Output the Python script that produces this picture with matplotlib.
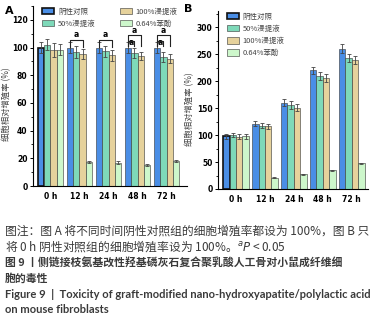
import numpy as np
import matplotlib
matplotlib.use('Agg')
import matplotlib.pyplot as plt
from matplotlib.ticker import MultipleLocator

plt.rcParams['font.family'] = ['Noto Sans CJK SC', 'DejaVu Sans']
plt.rcParams['axes.unicode_minus'] = False

times = ['0 h', '12 h', '24 h', '48 h', '72 h']
groups = ['阴性对照', '50%浸提液', '100%浸提液', '0.64%苯酚']
colors = ['#4a8ee6', '#7ed9b9', '#e6d29c', '#cdf7cb']

# panel A: relative to control at each time point
a_ctrl = [100, 100, 100, 100, 100]
a_50 = [102, 96.8, 97.3, 95.9, 93.2]
a_100 = [98.2, 95.2, 94.5, 93.8, 92]
a_phenol = [98.3, 17.4, 16.8, 15, 17.9]
a_err = [[4, 4, 4, 4, 4],
         [4, 4, 4, 3.5, 3.5],
         [5, 3.5, 4, 3, 3.5],
         [4, 0.5, 1, 0.6, 0.6]]

# panel B: relative to control at 0 h
b_ctrl = [97.5, 121, 160, 220, 260]
b_50 = [100.5, 117.5, 156, 210, 243]
b_100 = [97, 116, 151, 206, 239.5]
b_phenol = [97.5, 20.5, 27, 34.5, 47.5]
b_err = [[5, 5, 6, 7, 8],
         [4, 5, 7, 7, 8],
         [5, 4, 6, 7, 8],
         [4, 1, 1.5, 1.5, 1.5]]

fig = plt.figure(figsize=(3.84, 3.19), dpi=100)
W, H = 384, 319
bw = 0.22


def px_axes(x0, y_bottom, w, h):
    return fig.add_axes([x0 / W, 1 - y_bottom / H, w / W, h / H])


def style_yticks(ax):
    for t in ax.get_yticklabels():
        t.set_fontweight('bold')
        t.set_family('DejaVu Sans')


def draw_bars(ax, series, errs):
    x = np.arange(len(times))
    for k, vals in enumerate(series):
        pos = x + (k - 1.5) * bw
        bars = ax.bar(pos, vals, bw, color=colors[k], edgecolor='#333333',
                      linewidth=0.4, label=groups[k], zorder=2)
        ax.errorbar(pos, vals, yerr=errs[k], fmt='none', ecolor='#444444',
                    elinewidth=0.6, capsize=1.6, capthick=0.6, zorder=3)
        if k == 0:
            bars[0].set_edgecolor('#111111')
            bars[0].set_linewidth(1.2)
    ax.set_xticks(x)
    ax.set_xticklabels(times, fontsize=5.5, fontweight='bold', family='DejaVu Sans')
    for s in ['top', 'right']:
        ax.spines[s].set_visible(False)
    for s in ['left', 'bottom']:
        ax.spines[s].set_linewidth(0.8)
    ax.tick_params(axis='x', length=0, pad=4)
    ax.tick_params(axis='y', labelsize=5.5, length=2.5, width=0.7, pad=1.5)
    ax.tick_params(axis='y', which='minor', length=1.5, width=0.6)


def bracket(ax, x1, x2, y, drop, label_y=None):
    ax.plot([x1, x1, x2, x2], [y - drop, y, y, y - drop], color='#222222', lw=0.8, zorder=4)
    if label_y is not None:
        ax.text((x1 + x2) / 2, label_y, 'a', ha='center', va='center', fontsize=5.5,
                fontweight='bold', family='DejaVu Sans')


# ---- panel A
axA = px_axes(33, 186, 154, 180)
draw_bars(axA, [a_ctrl, a_50, a_100, a_phenol], a_err)
axA.set_xlim(-0.6, 4.7)
axA.set_ylim(0, 130)
axA.yaxis.set_major_locator(MultipleLocator(20))
axA.yaxis.set_minor_locator(MultipleLocator(10))
style_yticks(axA)
axA.legend(loc='upper left', bbox_to_anchor=(0.06, 0.99), ncol=2, frameon=False,
           fontsize=5.4, handlelength=1.6, handleheight=0.9, columnspacing=3.2,
           labelspacing=0.55, handletextpad=0.5, borderpad=0, borderaxespad=0,
           labelcolor='#444444')

for i in (1, 2):
    bracket(axA, i - 1.5 * bw, i + 0.5 * bw, 105.5, 5, 109.5)
for i in (3, 4):
    bracket(axA, i - 1.5 * bw, i + 0.5 * bw, 109, 8, 112)
    bracket(axA, i - 1.5 * bw, i - 0.5 * bw, 105, 4)
    axA.text(i - 1.0 * bw, 103.5, 'a', ha='center', va='center', fontsize=5.5,
             fontweight='bold', family='DejaVu Sans')

# ---- panel B
axB = px_axes(218, 189, 150, 178)
draw_bars(axB, [b_ctrl, b_50, b_100, b_phenol], b_err)
axB.set_xlim(-0.62, 4.56)
axB.set_ylim(0, 330)
axB.yaxis.set_major_locator(MultipleLocator(50))
axB.yaxis.set_minor_locator(MultipleLocator(25))
style_yticks(axB)
axB.legend(loc='upper left', bbox_to_anchor=(0.06, 0.99), ncol=1, frameon=False,
           fontsize=5.4, handlelength=1.6, handleheight=0.9,
           labelspacing=0.55, handletextpad=0.5, borderpad=0, borderaxespad=0,
           labelcolor='#444444')

# axis titles and panel letters
fig.text(6.5 / W, 1 - 104 / H, '细胞相对增殖率 (%)', rotation=90, ha='center',
         va='center', fontsize=6, color='#444444')
fig.text(190 / W, 1 - 109 / H, '细胞相对增殖率 (%)', rotation=90, ha='center',
         va='center', fontsize=6, color='#444444')
fig.text(9 / W, 1 - 11 / H, 'A', fontsize=8, fontweight='bold', ha='center', va='center',
         family='DejaVu Sans')
fig.text(188 / W, 1 - 9 / H, 'B', fontsize=8, fontweight='bold', ha='center', va='center',
         family='DejaVu Sans')

# caption
cap = [
    ('图注：图 A 将不同时间阴性对照组的细胞增殖率都设为 100%，图 B 只', 231.5, 'normal', 8.5, None),
    ('将 0 h 阴性对照组的细胞增殖率设为 100%。$^{a}P$ < 0.05', 246.5, 'normal', 8.5, None),
    ('图 9 丨侧链接枝氨基改性羟基磷灰石复合聚乳酸人工骨对小鼠成纤维细', 263, 'bold', 7.8, None),
    ('胞的毒性', 278.5, 'bold', 7.8, None),
    ('Figure 9  |  Toxicity of graft-modified nano-hydroxyapatite/polylactic acid', 294, 'bold', 8, 'Lato'),
    ('on mouse fibroblasts', 309.5, 'bold', 8, 'Lato'),
]
for txt, y, wt, fs, fam in cap:
    t = fig.text(5 / W, 1 - y / H, txt, ha='left', va='center', fontsize=fs,
                 fontweight=wt, color='#3a3a3a')
    if fam:
        t.set_family(fam)

fig.savefig('out.png', dpi=100)
